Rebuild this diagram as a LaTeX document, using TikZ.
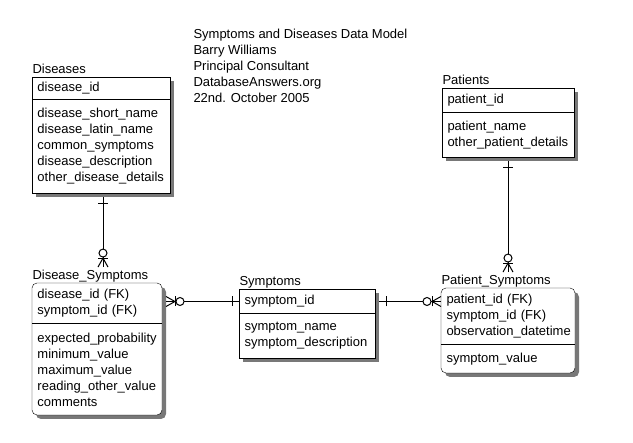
\documentclass[tikz,border=0pt]{standalone}
\usepackage{fontspec}
\setmainfont{Liberation Sans}
\usetikzlibrary{positioning,fit,shadows,backgrounds,decorations.markings}
\newcommand{\erfont}{\fontsize{13}{16}\selectfont}

\begin{document}
\begin{tikzpicture}[x=1pt,y=-1pt,font=\erfont,line width=1pt]
        % Define colours
        \definecolor{shadowgrey}{RGB}{120,120,120}
        % Define styles
        \tikzset{
            field/.style={text width=#1, inner xsep=5pt, inner ysep=0pt, align=left, anchor=north west},
            tabletitle/.style={inner xsep=0pt, inner ysep=3pt, anchor=base west},
            entity/.style={draw, fill=white, inner sep=0pt,
                drop shadow={shadow xshift=4pt, shadow yshift=-4pt, fill=shadowgrey, opacity=1}},
            depentity/.style={entity, rounded corners=5pt},
            rel/.style={postaction={decorate}, decoration={markings,
                mark=at position 7pt with {\draw (0,-5pt) -- (0,5pt);},
                mark=at position -9pt with {\draw (0,-5pt) -- (0,5pt);
                    \draw (0,0) -- (9pt,5pt) (0,0) -- (9pt,-5pt);
                    \draw[fill=white] (-5pt,0) circle (4pt);}}}
        }
        \useasboundingbox (0,0) rectangle (633,443);

        % Header
        \node[anchor=north west, align=left, inner sep=0pt] (header) at (193,29)
            {Symptoms and Diseases Data Model\\Barry Williams\\Principal Consultant\\DatabaseAnswers.org\\22nd. October 2005};

        % Diseases
        \node[field=127pt, minimum height=22pt] (disK) at (32,77) {disease\_id};
        \node[field=127pt, minimum height=92pt, below=0pt of disK] (disA)
            {disease\_short\_name\\disease\_latin\_name\\common\_symptoms\\disease\_description\\other\_disease\_details};
        \node[tabletitle] (disT) at ([yshift=3pt]disK.north west) {Diseases};

        % Disease_Symptoms
        \node[field=119pt, minimum height=40pt] (dsK) at (32,283) {disease\_id (FK)\\symptom\_id (FK)};
        \node[field=119pt, minimum height=90pt, below=0pt of dsK] (dsA)
            {expected\_probability\\minimum\_value\\maximum\_value\\reading\_other\_value\\comments};
        \node[tabletitle] (dsT) at ([yshift=3pt]dsK.north west) {Disease\_Symptoms};

        % Symptoms
        \node[field=125pt, minimum height=24pt] (symK) at (239,289) {symptom\_id};
        \node[field=125pt, minimum height=43pt, below=0pt of symK] (symA)
            {symptom\_name\\symptom\_description};
        \node[tabletitle] (symT) at ([yshift=3pt]symK.north west) {Symptoms};

        % Patients
        \node[field=121pt, minimum height=24pt] (patK) at (442,88) {patient\_id};
        \node[field=121pt, minimum height=43pt, below=0pt of patK] (patA)
            {patient\_name\\other\_patient\_details};
        \node[tabletitle] (patT) at ([yshift=3pt]patK.north west) {Patients};

        % Patient_Symptoms
        \node[field=123pt, minimum height=56pt] (psK) at (441,288) {patient\_id (FK)\\symptom\_id (FK)\\observation\_datetime};
        \node[field=123pt, minimum height=27pt, below=0pt of psK] (psA) {symptom\_value};
        \node[tabletitle] (psT) at ([yshift=3pt]psK.north west) {Patient\_Symptoms};

        % Draw the outlines with shadows behind the text
        \begin{scope}[on background layer]
            \node[entity, fit=(disK)(disA)] (dis) {};
            \node[depentity, fit=(dsK)(dsA)] (ds) {};
            \node[entity, fit=(symK)(symA)] (sym) {};
            \node[entity, fit=(patK)(patA)] (pat) {};
            \node[depentity, fit=(psK)(psA)] (ps) {};
        \end{scope}
        \foreach \k in {disK,dsK,symK,patK,psK} {
            \draw (\k.south west) -- (\k.south east);
        }

        % Relationships
        \draw[rel] ([xshift=2pt,yshift=-4pt]disA.south) -- ([xshift=2pt]disA.south |- dsT.north);
        \draw[rel] (symK.west) -- ([xshift=4pt]symK.west -| dsK.east);
        \draw[rel] ([xshift=4pt]symK.east) -- (symK.east -| psK.west);
        \draw[rel] ([yshift=-4pt]patA.south) -- (patA.south |- psT.north);
\end{tikzpicture}
\end{document}
